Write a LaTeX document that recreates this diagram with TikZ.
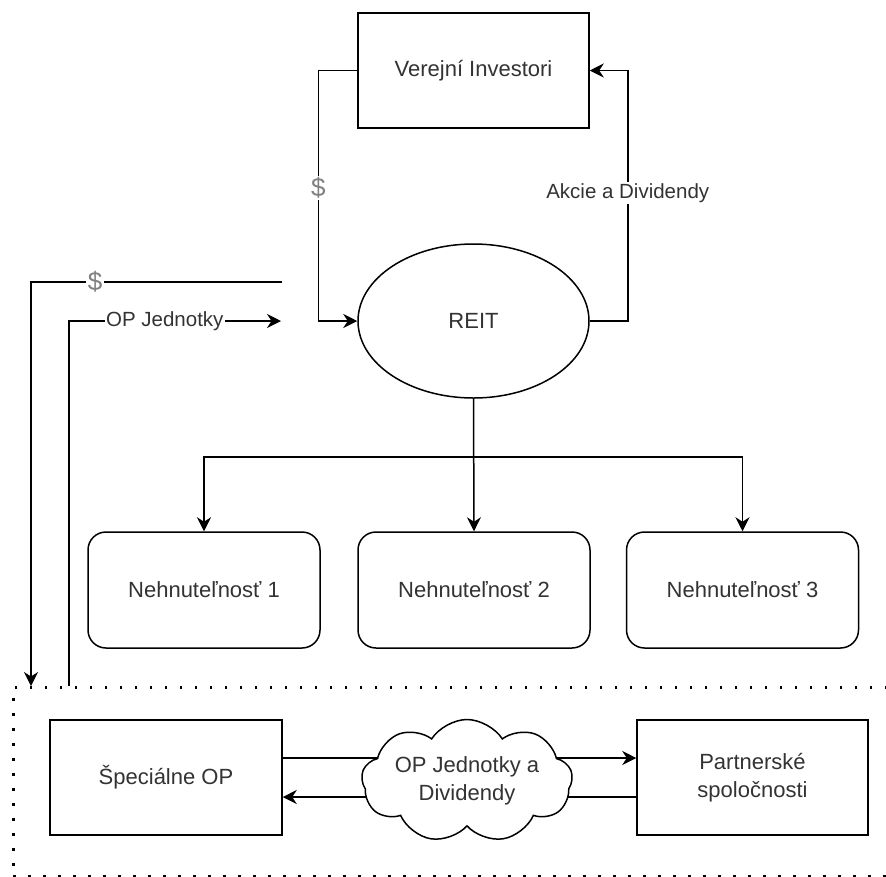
\documentclass[tikz,border=0pt]{standalone}
\usepackage{fontspec}
\setmainfont{Liberation Sans}
\usetikzlibrary{shapes.geometric,shapes.symbols,arrows.meta}
\definecolor{txt}{HTML}{333333}
\begin{document}
\begin{tikzpicture}[x=1pt,y=-1pt,
  line width=1.5pt,
  arr/.style={-{Stealth[length=14pt,width=14pt,inset=4.5pt]}},
  box/.style={draw, fill=white, minimum width=231pt, minimum height=115pt,
    font=\fontsize{22}{28}\selectfont, text=txt, align=center, inner sep=0pt},
  rbox/.style={box, rounded corners=18pt},
  lbl/.style={fill=white, font=\fontsize{20.5}{24}\selectfont, text=txt, inner sep=1.5pt},
  dollar/.style={fill=white, font=\fontsize{26}{28}\selectfont, text=gray, inner sep=1.5pt},
  grpbox/.style={draw, line width=2.5pt, dash pattern=on 2.5pt off 12.5pt, inner sep=0pt}]
\useasboundingbox (0,0) rectangle (886,876);

% dotted group container
\node[grpbox, minimum width=890pt, minimum height=189pt, anchor=north west] (grp) at (12,686) {};

% nodes
\node[box] (vi) at (473.5,70.5) {Verejní Investori};
\node[ellipse, draw, fill=white, minimum width=231pt, minimum height=154pt, inner sep=0pt,
  font=\fontsize{22}{28}\selectfont, text=txt] (reit) at (473.5,321) {REIT};
\node[rbox, minimum width=232pt, minimum height=116pt] (n1) at (204,590) {Nehnuteľnosť 1};
\node[rbox, minimum width=232pt, minimum height=116pt] (n2) at (474,590) {Nehnuteľnosť 2};
\node[rbox, minimum width=232pt, minimum height=116pt] (n3) at (742.5,590) {Nehnuteľnosť 3};
\node[box, minimum width=232pt] (sop) at (166,777.5) {Špeciálne OP};
\node[box, minimum width=231pt] (ps) at (752.5,777.5) {Partnerské\\spoločnosti};

% top connectors
\draw[arr] (vi.west) -- ++(-39,0) |- node[pos=0.2345, dollar] {\$} (reit.west);
\draw[arr] (reit.east) -- ++(38,0) |- node[pos=0.255, lbl] {Akcie a Dividendy} (vi.east);

% REIT to properties
\draw[arr] (reit.south) -- (n2.north);
\draw[arr] (reit.south) -- ++(0,58) -| (n1.north);
\draw[arr] (reit.south) -- ++(0,58) -| (n3.north);

% left free connectors
\coordinate (dA) at (282,282);
\coordinate (dB) at (31,686);
\coordinate (oA) at (69,686);
\coordinate (oB) at (281,321);
\draw[arr] (dA) -| node[pos=0.3725, dollar] {\$} (dB);
\draw[arr] (oA) |- node[pos=0.726, lbl] {OP Jednotky} (oB);

% bottom connectors
\draw[arr] ([yshift=19.5pt]sop.east) -- ([yshift=19.5pt]ps.west);
\draw[arr] ([yshift=-19.5pt]ps.west) -- ([yshift=-19.5pt]sop.east);

\node[cloud, draw, fill=white, cloud puffs=9, cloud puff arc=115, cloud ignores aspect, minimum width=211pt,
  minimum height=123pt, inner sep=0pt, align=center, font=\fontsize{22}{28}\selectfont, text=txt]
  (cl) at (467,781) {OP Jednotky a\\Dividendy};
\end{tikzpicture}
\end{document}
